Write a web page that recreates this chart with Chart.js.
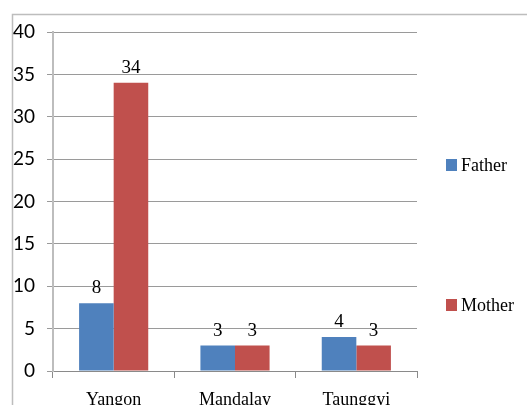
<!DOCTYPE html>
<html>
<head>
<meta charset="utf-8">
<script src="https://cdn.jsdelivr.net/npm/chart.js@4/dist/chart.umd.min.js"></script>
<style>
  html, body { margin: 0; padding: 0; background: #fff; }
  body { width: 527px; height: 405px; overflow: hidden; }
  #wrap { width: 527px; height: 430px; position: relative; }
</style>
</head>
<body>
<div id="wrap"><canvas id="c"></canvas></div>
<script>
const categories = ['Yangon', 'Mandalay', 'Taunggyi'];
const fatherValues = [8, 3, 4];
const motherValues = [34, 3, 3];
const yTicks = [0, 5, 10, 15, 20, 25, 30, 35, 40];

const SERIF = '"Liberation Serif", "Times New Roman", serif';
const SANS = 'Lato, "Liberation Sans", sans-serif';

// Light frame around the whole figure (top and left edges visible)
const framePlugin = {
  id: 'frame',
  beforeDraw(chart) {
    const ctx = chart.ctx;
    ctx.save();
    ctx.strokeStyle = '#bdbdbd';
    ctx.lineWidth = 1.5;
    ctx.beginPath();
    ctx.moveTo(12.5, chart.height);
    ctx.lineTo(12.5, 14.5);
    ctx.lineTo(chart.width, 14.5);
    ctx.stroke();
    ctx.restore();
  }
};

// Value labels above each bar
const valueLabels = {
  id: 'valueLabels',
  afterDatasetsDraw(chart) {
    const ctx = chart.ctx;
    ctx.save();
    ctx.font = '19px ' + SERIF;
    ctx.fillStyle = '#000';
    ctx.textAlign = 'center';
    ctx.textBaseline = 'alphabetic';
    chart.data.datasets.forEach((ds, i) => {
      chart.getDatasetMeta(i).data.forEach((bar, j) => {
        ctx.fillText(String(ds.data[j]), bar.x, bar.y - 10);
      });
    });
    ctx.restore();
  }
};

// Legend on the right, entries widely spaced
const sideLegend = {
  id: 'sideLegend',
  afterDraw(chart) {
    const ctx = chart.ctx;
    const rows = [171, 311];
    ctx.save();
    ctx.font = '18px ' + SERIF;
    ctx.textBaseline = 'alphabetic';
    ctx.textAlign = 'left';
    chart.data.datasets.forEach((ds, i) => {
      const base = rows[i];
      ctx.fillStyle = ds.backgroundColor;
      ctx.fillRect(446, base - 12, 11, 12);
      ctx.fillStyle = '#000';
      ctx.fillText(ds.label, 461, base);
    });
    ctx.restore();
  }
};

new Chart(document.getElementById('c'), {
  type: 'bar',
  data: {
    labels: categories,
    datasets: [
      { label: 'Father', data: fatherValues, backgroundColor: '#4F81BD' },
      { label: 'Mother', data: motherValues, backgroundColor: '#C0504D' }
    ]
  },
  options: {
    responsive: true,
    maintainAspectRatio: false,
    animation: false,
    devicePixelRatio: 1,
    layout: { padding: { left: 0, top: 32, right: 110, bottom: 0 } },
    datasets: { bar: { barPercentage: 1, categoryPercentage: 0.57 } },
    plugins: { legend: { display: false }, tooltip: { enabled: false } },
    scales: {
      x: {
        grid: { offset: true, drawOnChartArea: false, drawTicks: true, tickLength: 7, color: '#8a8a8a' },
        border: { color: '#8a8a8a', width: 1 },
        ticks: { color: '#000', font: { family: SERIF, size: 18 }, padding: 11, maxRotation: 0 },
        afterFit(scale) { scale.height = 59; scale.paddingLeft = 0; scale.paddingRight = 0; }
      },
      y: {
        min: 0,
        max: 40,
        afterBuildTicks(scale) { scale.ticks = yTicks.map(v => ({ value: v })); },
        grid: { color: '#9a9a9a', tickLength: 6, drawTicks: true },
        border: { color: '#bdbdbd', width: 2 },
        ticks: { color: '#000', font: { family: SANS, size: 19 }, padding: 12 },
        afterFit(scale) { scale.width = 53; scale.paddingTop = 0; scale.paddingBottom = 0; }
      }
    }
  },
  plugins: [framePlugin, valueLabels, sideLegend]
});
</script>
</body>
</html>
